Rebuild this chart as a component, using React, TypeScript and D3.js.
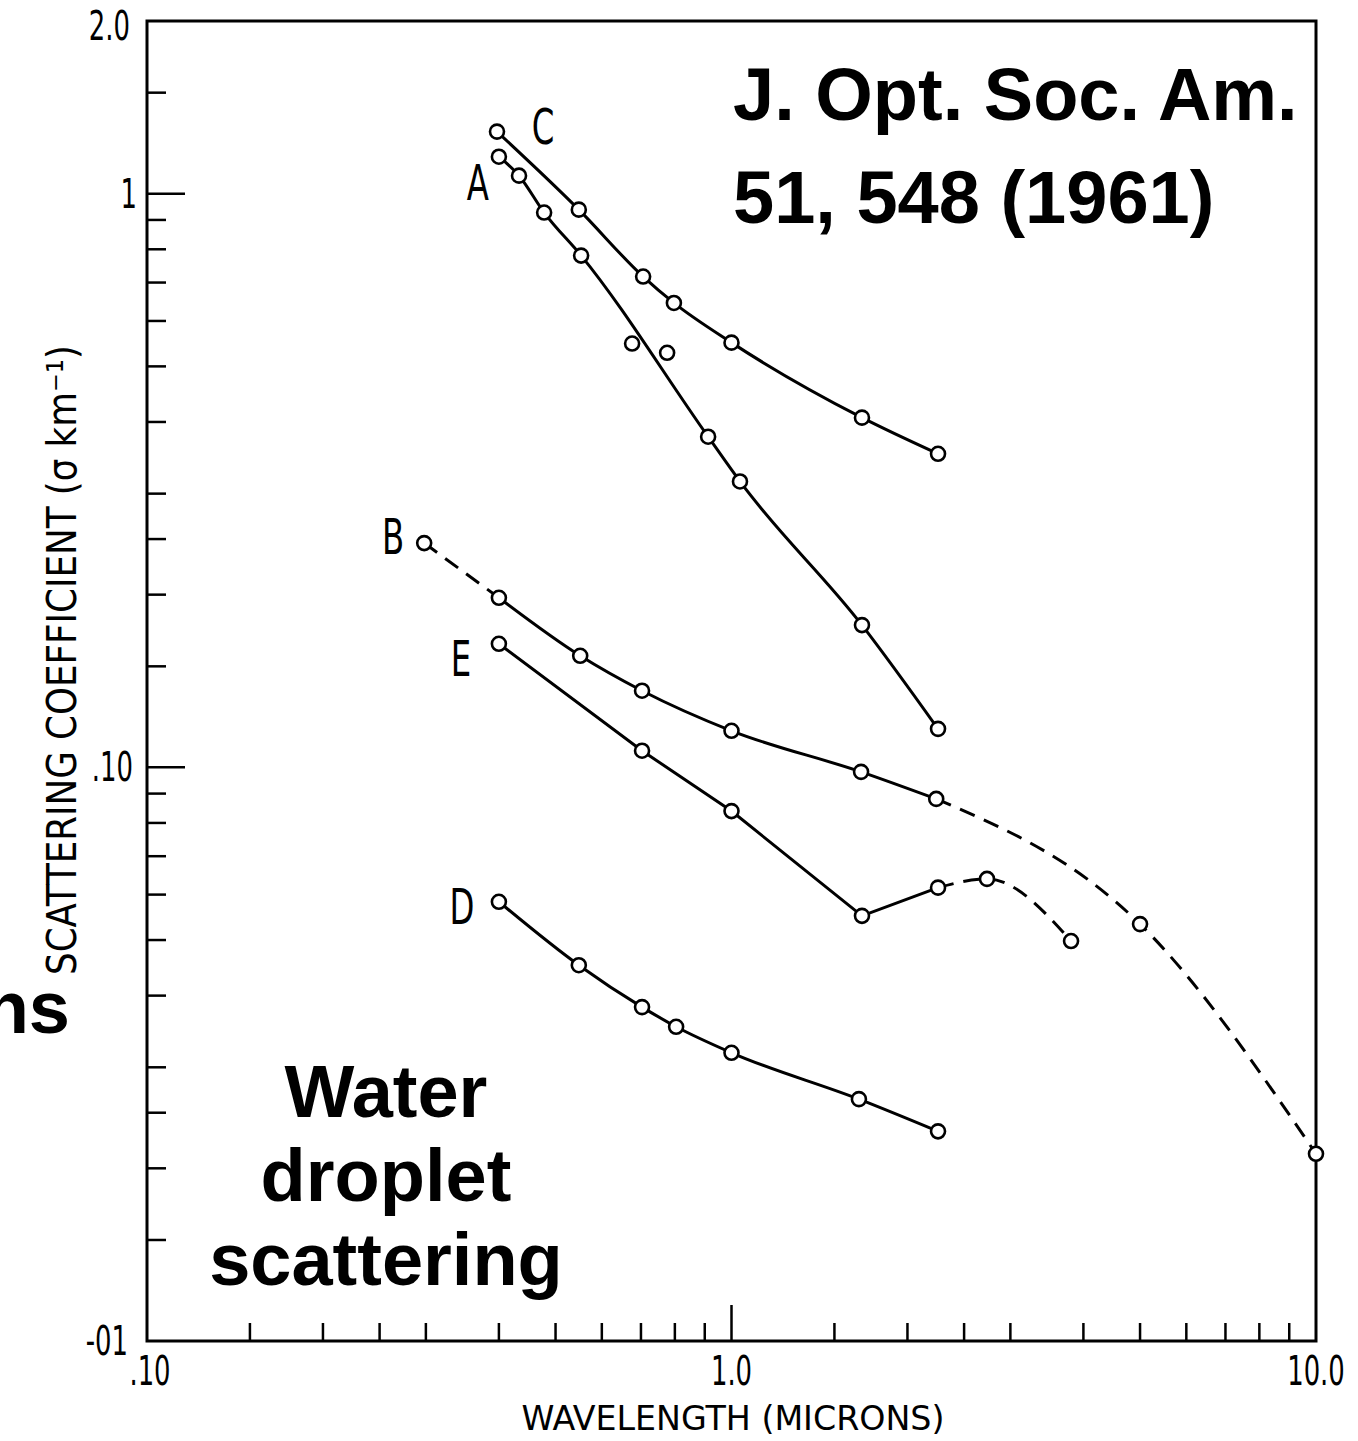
import React from 'react';
import * as d3 from 'd3';

// ---------- data ----------
const wavelengthC = [0.397, 0.548, 0.706, 0.797, 1.0, 1.672, 2.256];
const valuesC = [1.283, 0.938, 0.717, 0.645, 0.55, 0.407, 0.352];

const wavelengthA = [0.4, 0.433, 0.478, 0.553, 0.676, 0.776, 0.912, 1.034, 1.672, 2.256];
const valuesA = [1.16, 1.075, 0.927, 0.78, 0.548, 0.528, 0.377, 0.315, 0.177, 0.1167];
// hand-drawn fit line of A (passes between the two scattered points)
const fitWavelengthA = [0.4, 0.433, 0.478, 0.553, 0.912, 1.034, 1.672, 2.256];
const fitValuesA = [1.16, 1.075, 0.927, 0.78, 0.377, 0.315, 0.177, 0.1167];

const wavelengthB = [0.298, 0.4, 0.551, 0.703, 1.0, 1.666, 2.24, 5.0, 10.0];
const valuesB = [0.246, 0.1975, 0.1565, 0.136, 0.1158, 0.0982, 0.0881, 0.0533, 0.0212];

const wavelengthE = [0.4, 0.703, 1.0, 1.672, 2.256, 2.736, 3.81];
const valuesE = [0.1642, 0.1069, 0.0839, 0.0551, 0.0617, 0.0639, 0.0498];

const wavelengthD = [0.4, 0.548, 0.703, 0.804, 1.0, 1.652, 2.256];
const valuesD = [0.0583, 0.0452, 0.0382, 0.0353, 0.0318, 0.0264, 0.0232];

const yLabelValues = [2, 1, 0.1, 0.01];
const yLabelTexts = ['2.0', '1', '.10', '-01'];
const xLabelValues = [0.1, 1, 10];
const xLabelTexts = ['.10', '1.0', '10.0'];
const tickMultipliers = [1, 1.5, 2, 2.5, 3, 4, 5, 6, 7, 8, 9];
const yDecades = [0.01, 0.1, 1];
const xDecades = [0.1, 1];
const yMajorTicks = [1, 0.1];
const xMajorTicks = [1];

const xTitle = 'WAVELENGTH (MICRONS)';
const yTitle = 'SCATTERING COEFFICIENT (\u03C3 km\u207B\u00B9)';
const refLines = ['J. Opt. Soc. Am.', '51, 548 (1961)'];
const captionLines = ['Water', 'droplet', 'scattering'];
const cutText = 'ns';

// ---------- layout ----------
const W = 1358;
const H = 1441;
const L = 147, R = 1316, T = 21, B = 1341;

const x = d3.scaleLog().domain([0.1, 10]).range([L, R]);
const y = d3.scaleLog().domain([0.01, 2]).range([B, T]);

type Seg = { from: number; to: number; dash: boolean; curve: any };

const lineFont = '"DejaVu Sans Condensed", "DejaVu Sans", sans-serif';
const boldFont = '"Liberation Sans", Arial, Helvetica, sans-serif';

function zip(w: number[], v: number[]): [number, number][] {
  return w.map((d, i) => [d, v[i]]);
}

const series = [
  {
    name: 'C', pts: zip(wavelengthC, valuesC), line: zip(wavelengthC, valuesC),
    segs: [{ from: 0, to: 6, dash: false, curve: d3.curveMonotoneX }] as Seg[],
    label: { dx: 46, dy: 12 },
  },
  {
    name: 'A', pts: zip(wavelengthA, valuesA), line: zip(fitWavelengthA, fitValuesA),
    segs: [{ from: 0, to: 7, dash: false, curve: d3.curveMonotoneX }] as Seg[],
    label: { dx: -21, dy: 43 },
  },
  {
    name: 'B', pts: zip(wavelengthB, valuesB), line: zip(wavelengthB, valuesB),
    segs: [
      { from: 0, to: 1, dash: true, curve: d3.curveLinear },
      { from: 1, to: 6, dash: false, curve: d3.curveMonotoneX },
      { from: 6, to: 8, dash: true, curve: d3.curveMonotoneX },
    ] as Seg[],
    label: { dx: -31, dy: 11 },
  },
  {
    name: 'E', pts: zip(wavelengthE, valuesE), line: zip(wavelengthE, valuesE),
    segs: [
      { from: 0, to: 4, dash: false, curve: d3.curveLinear },
      { from: 4, to: 6, dash: true, curve: d3.curveMonotoneX },
    ] as Seg[],
    label: { dx: -38, dy: 32 },
  },
  {
    name: 'D', pts: zip(wavelengthD, valuesD), line: zip(wavelengthD, valuesD),
    segs: [{ from: 0, to: 6, dash: false, curve: d3.curveMonotoneX }] as Seg[],
    label: { dx: -37, dy: 22 },
  },
];

const yLabelRight: Record<string, number> = { '2.0': 130, '1': 137, '.10': 133, '-01': 128 };

export default function App() {
  const yTicks: number[] = [];
  yDecades.forEach((d) => tickMultipliers.forEach((m) => {
    const v = +(d * m).toPrecision(4);
    if (v > 0.01 && v < 2) yTicks.push(v);
  }));
  const xTicks: number[] = [];
  xDecades.forEach((d) => tickMultipliers.forEach((m) => {
    const v = +(d * m).toPrecision(4);
    if (v > 0.1 && v < 10) xTicks.push(v);
  }));

  const mkLine = (curve: any) =>
    d3.line<[number, number]>().x((d) => x(d[0])).y((d) => y(d[1])).curve(curve);

  return (
    <svg width={W} height={H} style={{ position: 'absolute', left: 0, top: 0, background: '#fff' }}>
      <rect x={0} y={0} width={W} height={H} fill="#fff" />
      {/* frame */}
      <rect x={L} y={T} width={R - L} height={B - T} fill="none" stroke="#000" strokeWidth={3} />
      {/* y ticks */}
      {yTicks.map((v) => (
        <line key={'yt' + v} x1={L} x2={L + (yMajorTicks.includes(v) ? 38 : 19)} y1={y(v)} y2={y(v)}
          stroke="#000" strokeWidth={2.5} />
      ))}
      {/* x ticks */}
      {xTicks.map((v) => (
        <line key={'xt' + v} x1={x(v)} x2={x(v)} y1={B} y2={B - (xMajorTicks.includes(v) ? 36 : 18)}
          stroke="#000" strokeWidth={2.5} />
      ))}
      {/* y tick labels */}
      {yLabelValues.map((v, i) => (
        <text key={'yl' + v} transform={`translate(${yLabelRight[yLabelTexts[i]]},${Math.max(y(v) + 14, 40)}) scale(0.72,1)`}
          textAnchor="end" fontFamily={lineFont} fontSize={40} fill="#000">{yLabelTexts[i]}</text>
      ))}
      {/* x tick labels */}
      {xLabelValues.map((v, i) => (
        <text key={'xl' + v} transform={`translate(${x(v) + (v === 0.1 ? 3 : 0)},1385) scale(0.72,1)`}
          textAnchor="middle" fontFamily={lineFont} fontSize={40} fill="#000">{xLabelTexts[i]}</text>
      ))}
      {/* axis titles */}
      <text x={733} y={1430} textAnchor="middle" fontFamily={lineFont} fontSize={34}
        textLength={423} lengthAdjust="spacingAndGlyphs" fill="#000">{xTitle}</text>
      <text transform="translate(76,660) rotate(-90)" textAnchor="middle" fontFamily={lineFont} fontSize={40}
        textLength={630} lengthAdjust="spacingAndGlyphs" fill="#000">{yTitle}</text>

      {/* series lines */}
      {series.map((s) => s.segs.map((g, gi) => (
        <path key={s.name + 'seg' + gi} d={mkLine(g.curve)(s.line.slice(g.from, g.to + 1)) || ''}
          fill="none" stroke="#000" strokeWidth={3} strokeDasharray={g.dash ? '16 10' : undefined} />
      )))}
      {/* markers */}
      {series.map((s) => s.pts.map((p, i) => (
        <circle key={s.name + 'pt' + i} cx={x(p[0])} cy={y(p[1])} r={7} fill="#fff" stroke="#000" strokeWidth={2.6} />
      )))}
      {/* series letters */}
      {series.map((s) => (
        <text key={s.name + 'lab'} transform={`translate(${x(s.pts[0][0]) + s.label.dx},${y(s.pts[0][1]) + s.label.dy}) scale(0.72,1)`}
          textAnchor="middle" fontFamily={lineFont} fontSize={50} fill="#000">{s.name}</text>
      ))}

      {/* overlay texts */}
      {refLines.map((t, i) => (
        <text key={'ref' + i} x={733} y={120 + i * 103} fontFamily={boldFont} fontWeight="bold" fontSize={74} fill="#000">{t}</text>
      ))}
      {captionLines.map((t, i) => (
        <text key={'cap' + i} x={386} y={1117 + i * 84} textAnchor="middle" fontFamily={boldFont} fontWeight="bold" fontSize={74} fill="#000">{t}</text>
      ))}
      <text x={70} y={1033} textAnchor="end" fontFamily={boldFont} fontWeight="bold" fontSize={74} fill="#000">{cutText}</text>
    </svg>
  );
}
